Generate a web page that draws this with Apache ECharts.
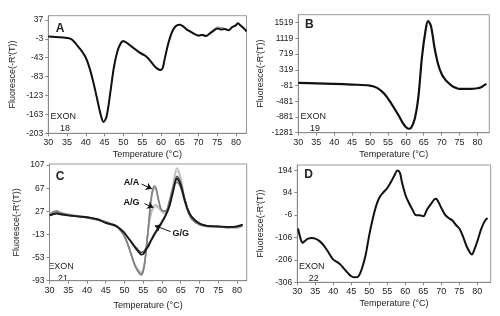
<!DOCTYPE html>
<html>
<head>
<meta charset="utf-8">
<script src="https://cdn.jsdelivr.net/npm/echarts@6/dist/echarts.min.js"></script>
<style>html,body{margin:0;padding:0;background:#fff}#c{width:500px;height:316px}</style>
</head>
<body>
<div id="c"></div>
<script>
// ---------- DATA ----------
const xTicks = [30,35,40,45,50,55,60,65,70,75,80];

// Panel A (Exon 18)
const tA = [30,32,35,36,37,38,39,40,41,42,43,44,44.7,45.5,46.5,47.5,48.5,49.5,50,51,52,53,54,55,56,57,58,59,60,60.5,61,62,63,64,65,66,67,68,69,70,71,72,73,74,75,76,77,78,79,80,80.5,81,82,82.8];
const aMain = [2,1,-1,-3,-10,-20,-30,-43,-65,-95,-130,-165,-179,-168,-118,-62,-27,-10,-8,-12,-18,-24,-30,-35,-40,-48,-58,-66,-69,-64,-46,-12,12,24,27,23,16,12,7,4,5,3,8,14,19,17,18,15,22,26,30,27,20,13];
const aSecond = [2,1,-1,-3,-10,-20,-30,-43,-65,-95,-130,-165,-178,-167,-117,-61,-26,-9,-7,-12,-19,-26,-32,-38,-39,-47,-57,-65,-68,-63,-45,-11,13,25,28,23,17,11,6,2,7,4,11,17,22,21,19,15,21,25,29,26,19,12];
const yTicksA = [-203,-163,-123,-83,-43,-3,37];

// Panel B (Exon 19)
const tB = [30,35,40,45,50,52,54,56,58,59,60,60.8,61.5,62.5,63.5,64.5,65.5,66.2,67,68,69,70,71,72,73,74,75,78,80,81,82,82.5];
const bMain = [-13,-25,-39,-56,-81,-140,-292,-546,-842,-1012,-1138,-1181,-1155,-927,-377,638,1315,1560,1442,892,469,215,71,-22,-98,-140,-166,-166,-149,-123,-64,-40];
const yTicksB = [-1281,-881,-481,-81,319,719,1119,1519];

// Panel C (Exon 21)
const tC = [30,31,32,33,35,38,40,43,45,47,48,49,50,51,52,53,54,54.5,55,55.5,56,56.5,57,57.5,58,58.5,59,60,61,62,63,64,65,66,67,68,70,72,75,78,80,81.5];
const cGG1 = [20,22,23,22,20,18,17,13,7,4,1,-4,-10,-19,-28,-37,-45,-48,-47,-42,-37,-32,-25,-19,-13,-8,-3,8,20,36,62,84,72,48,28,17,6,2,1,0,1,4];
const cGG2 = [21,23,24,22,20,18,16,12,7,3,0,-5,-11,-19,-27,-35,-42,-44,-43,-39,-34,-29,-23,-17,-11,-6,-1,10,22,38,66,88,76,50,29,17,6,2,1,-1,1,3];
const cAA1 = [20,26,27,24,21,18,17,13,9,4,1,-6,-16,-32,-52,-70,-81,-83,-77,-58,-25,10,45,65,71,66,50,29,28,45,68,77,68,45,25,13,4,2,1,0,0,4];
const cAA2 = [19,24,26,24,21,18,16,12,8,3,0,-7,-17,-33,-53,-70,-79,-81,-75,-57,-26,8,40,60,67,63,48,28,27,46,70,81,71,47,26,14,4,1,0,-1,0,3];
const cAG1 = [21,27,28,25,22,19,17,13,9,4,1,-6,-15,-31,-51,-68,-78,-80,-75,-55,-25,3,22,33,38,38,35,27,24,40,75,102,85,52,28,14,4,1,0,-1,-2,1];
const cAG2 = [20,25,26,24,22,19,17,13,8,4,1,-6,-16,-31,-50,-67,-76,-78,-73,-54,-26,0,18,29,34,35,33,26,23,38,70,97,82,50,27,13,4,1,0,-1,-1,2];
const yTicksC = [-93,-53,-13,27,67,107];
const annoLabels = ['A/A','A/G','G/G'];

// Panel D (Exon 22)
const tD = [30.2,31,31.5,32,33,34,35,36,37,38,39,40,41,42,43,44,45,46,47,48,49,50,51,52,53,54,55,56,57,57.8,58.5,59,60,61,62,63,64,65,66,67,68,68.5,69,70,71,72,73,74,75,76,77,78,78.5,79,80,81,82,82.8];
const dMain = [-66,-116,-130,-123,-111,-108,-111,-120,-135,-156,-182,-205,-215,-227,-246,-264,-279,-284,-279,-242,-182,-93,-19,41,78,97,115,142,172,193,182,145,85,48,18,-7,-7,-11,18,41,63,67,58,26,-4,-19,-29,-49,-66,-101,-145,-175,-182,-167,-123,-71,-34,-19];
const yTicksD = [-306,-206,-106,-6,94,194];

// ---------- CHART ----------
const zip = (xs, ys) => xs.map((x, i) => [x, ys[i]]);
const FONT = 'Liberation Sans, Arial, sans-serif';
const TXT = '#222';
const plain = v => String(v);

const grids = [
  {left: 48.3, top: 15.7, width: 198.2, height: 117.6},
  {left: 298.3, top: 14.7, width: 191, height: 118},
  {left: 49.5, top: 164, width: 197.2, height: 116.7},
  {left: 297.3, top: 165, width: 193.4, height: 117.3}
].map(g => Object.assign({show: true, borderColor: '#999', borderWidth: 1, backgroundColor: 'transparent'}, g));

const xMax = [82.8, 83.3, 82.6, 83.7];
const xNameGap = [17, 17.5, 20, 17];
const xAxes = xMax.map((mx, i) => ({
  type: 'value', gridIndex: i, min: 30, max: mx,
  name: 'Temperature (°C)', nameLocation: 'middle', nameGap: xNameGap[i],
  nameTextStyle: {fontSize: 9, color: TXT, fontFamily: FONT},
  axisLine: {show: true, onZero: false, lineStyle: {color: '#888'}},
  axisTick: {show: true, length: 3, lineStyle: {color: '#888'}, customValues: xTicks},
  axisLabel: {fontSize: 9, color: TXT, fontFamily: FONT, margin: 5, customValues: xTicks, formatter: plain},
  splitLine: {show: false}
}));

const yRanges = [[-203, 46, yTicksA], [-1281, 1723, yTicksB], [-93, 109, yTicksC], [-306, 217.6, yTicksD]];
const yNameGap = [31, 33, 28, 32];
const yAxes = yRanges.map((r, i) => ({
  type: 'value', gridIndex: i, min: r[0], max: r[1],
  name: "Fluoresce(-R'(T))", nameLocation: 'middle', nameGap: yNameGap[i],
  nameTextStyle: {fontSize: 9, color: TXT, fontFamily: FONT},
  axisLine: {show: true, onZero: false, lineStyle: {color: '#888'}},
  axisTick: {show: true, length: 3, lineStyle: {color: '#888'}, customValues: r[2]},
  axisLabel: {fontSize: 8.5, color: TXT, fontFamily: FONT, margin: 5, customValues: r[2], formatter: plain},
  splitLine: {show: false}
}));

function line(idx, xs, ys, color, width, extra) {
  return Object.assign({
    type: 'line', xAxisIndex: idx, yAxisIndex: idx, data: zip(xs, ys),
    smooth: 0.35, showSymbol: false, symbol: 'none', silent: true,
    lineStyle: {color: color, width: width}, z: 2
  }, extra || {});
}

const annoText = [[51.9, 77.5], [51.9, 42.9], [65.0, -10.8]];
const arrows = [
  [[54.6, 74.1], [57.3, 66]],
  [[55.3, 40.4], [57.7, 33.5]],
  [[62.3, -8.1], [58.1, 2.3]]
];

const series = [
  line(0, tA, aSecond, '#8a8a8a', 1),
  line(0, tA, aMain, '#111', 2),
  line(1, tB, bMain, '#111', 2.2),
  line(2, tC, cAG2, '#d0d0d0', 1.5),
  line(2, tC, cAG1, '#b8b8b8', 1.5),
  line(2, tC, cAA2, '#9a9a9a', 1.5),
  line(2, tC, cAA1, '#808080', 1.5),
  line(2, tC, cGG2, '#555', 1.5),
  line(2, tC, cGG1, '#1a1a1a', 1.8, {
    markPoint: {
      silent: true, symbol: 'circle', symbolSize: 0,
      label: {show: true, position: 'inside', fontSize: 9, fontWeight: 'bold', color: '#111', fontFamily: FONT,
              formatter: p => p.name},
      data: annoText.map((c, i) => ({name: annoLabels[i], coord: c}))
    },
    markLine: {
      silent: true, symbol: ['none', 'arrow'], symbolSize: 6, animation: false,
      label: {show: false},
      lineStyle: {color: '#111', width: 1, type: 'solid'},
      data: arrows.map(a => [{coord: a[0]}, {coord: a[1]}])
    }
  }),
  line(3, tD, dMain, '#111', 2)
];

const txt = (x, y, s, size, bold) => ({
  type: 'text', x: x, y: y, silent: true,
  style: {text: s, fontSize: size, fontWeight: bold ? 'bold' : 'normal', fill: '#222', fontFamily: FONT,
          textAlign: 'center', textVerticalAlign: 'middle'}
});

const graphic = [
  txt(60, 28.3, 'A', 12, true), txt(309.3, 24.3, 'B', 12, true),
  txt(60, 176.3, 'C', 12, true), txt(308.7, 175, 'D', 12, true),
  txt(63.3, 116.7, 'EXON', 9), txt(65, 128.3, '18', 9),
  txt(313.3, 116.7, 'EXON', 9), txt(315, 128.3, '19', 9),
  txt(61, 266.3, 'EXON', 9), txt(63, 278.7, '21', 9),
  txt(311.7, 266.3, 'EXON', 9), txt(313.7, 278.7, '22', 9)
];

const chart = echarts.init(document.getElementById('c'), null, {renderer: 'canvas'});
chart.setOption({
  animation: false,
  backgroundColor: '#fff',
  textStyle: {fontFamily: FONT},
  grid: grids, xAxis: xAxes, yAxis: yAxes, series: series, graphic: graphic
});
</script>
</body>
</html>
